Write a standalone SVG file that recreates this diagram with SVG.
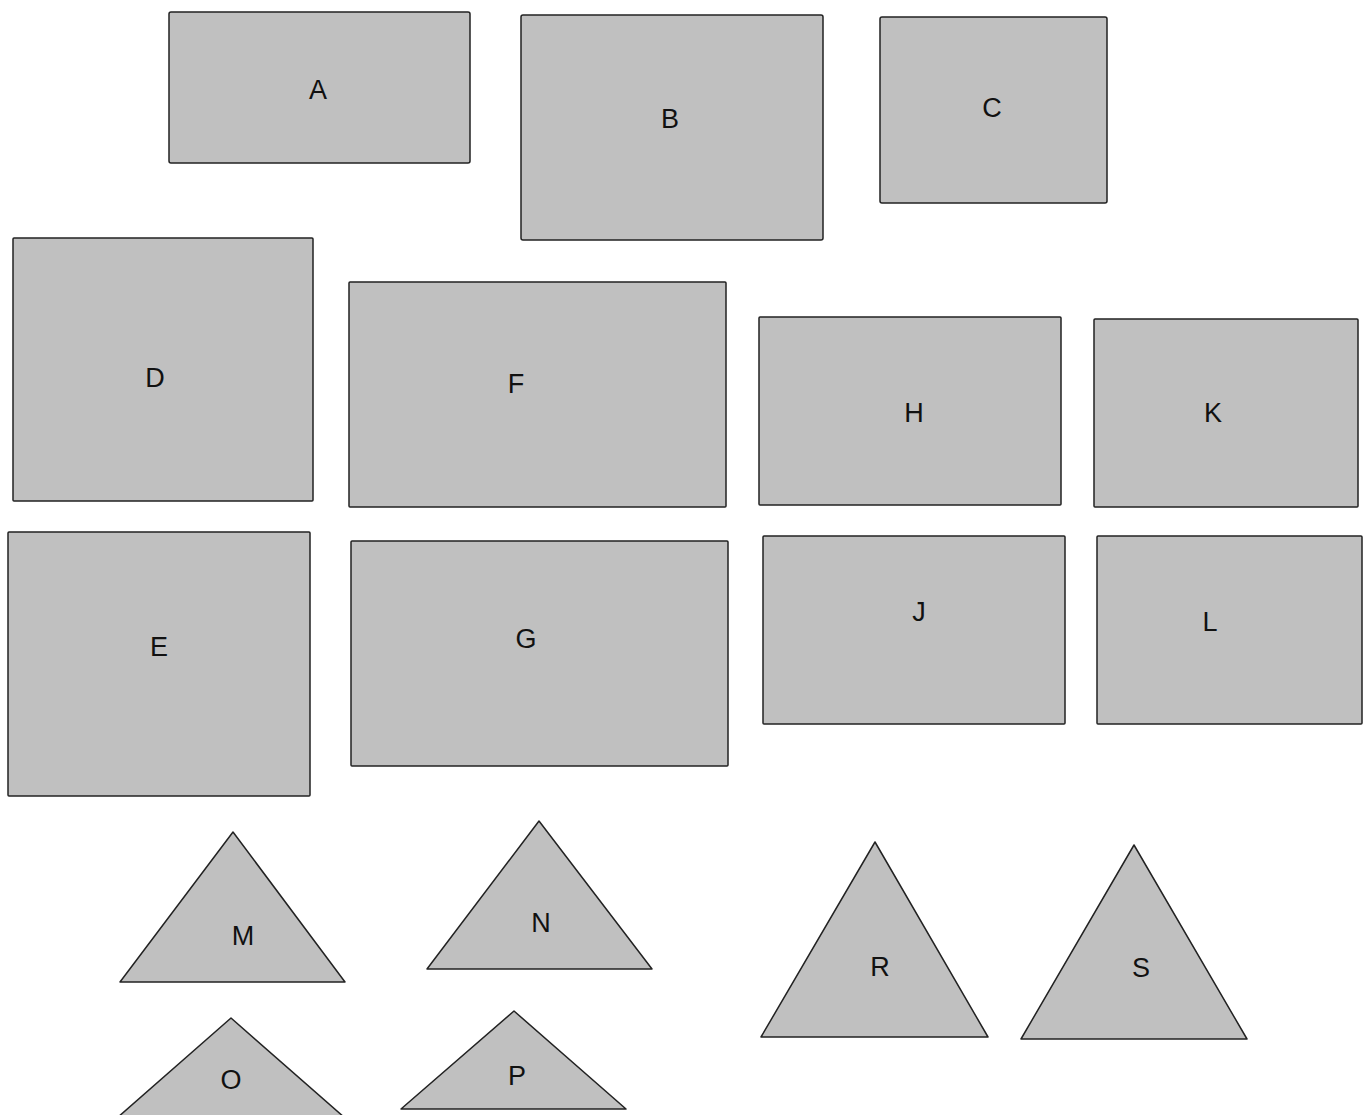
<svg xmlns="http://www.w3.org/2000/svg" width="1371" height="1115" viewBox="0 0 1371 1115">
<style>
.s{fill:#c0c0c0;stroke:#222;stroke-width:1.5;stroke-linejoin:round}
text{font-family:"Liberation Sans",Arial,sans-serif;font-size:27px;fill:#111;text-anchor:middle;dominant-baseline:central}
</style>
<rect width="1371" height="1115" fill="#fff"/>
<g id="A"><rect class="s" x="169" y="12" width="301" height="151" rx="2"/><text x="318" y="90">A</text></g>
<g id="B"><rect class="s" x="521" y="15" width="302" height="225" rx="2"/><text x="670" y="119">B</text></g>
<g id="C"><rect class="s" x="880" y="17" width="227" height="186" rx="2"/><text x="992" y="108">C</text></g>
<g id="D"><rect class="s" x="13" y="238" width="300" height="263" rx="1"/><text x="155" y="378">D</text></g>
<g id="F"><rect class="s" x="349" y="282" width="377" height="225" rx="1"/><text x="516" y="384">F</text></g>
<g id="H"><rect class="s" x="759" y="317" width="302" height="188" rx="1"/><text x="914" y="413">H</text></g>
<g id="K"><rect class="s" x="1094" y="319" width="264" height="188" rx="1"/><text x="1213" y="413">K</text></g>
<g id="E"><rect class="s" x="8" y="532" width="302" height="264" rx="1"/><text x="159" y="647">E</text></g>
<g id="G"><rect class="s" x="351" y="541" width="377" height="225" rx="1"/><text x="526" y="639">G</text></g>
<g id="J"><rect class="s" x="763" y="536" width="302" height="188" rx="1"/><text x="919" y="612">J</text></g>
<g id="L"><rect class="s" x="1097" y="536" width="265" height="188" rx="1"/><text x="1210" y="622">L</text></g>
<g id="M"><polygon class="s" points="233,832 345,982 120,982"/><text x="243" y="936">M</text></g>
<g id="N"><polygon class="s" points="539,821 652,969 427,969"/><text x="541" y="923">N</text></g>
<g id="R"><polygon class="s" points="875,842 988,1037 761,1037"/><text x="880" y="967">R</text></g>
<g id="S"><polygon class="s" points="1134,845 1247,1039 1021,1039"/><text x="1141" y="968">S</text></g>
<g id="O"><polygon class="s" points="231,1018 345,1118 117,1118"/><text x="231" y="1080">O</text></g>
<g id="P"><polygon class="s" points="514,1011 626,1109 401,1109"/><text x="517" y="1076">P</text></g>
<g id="connectors"></g>
</svg>
